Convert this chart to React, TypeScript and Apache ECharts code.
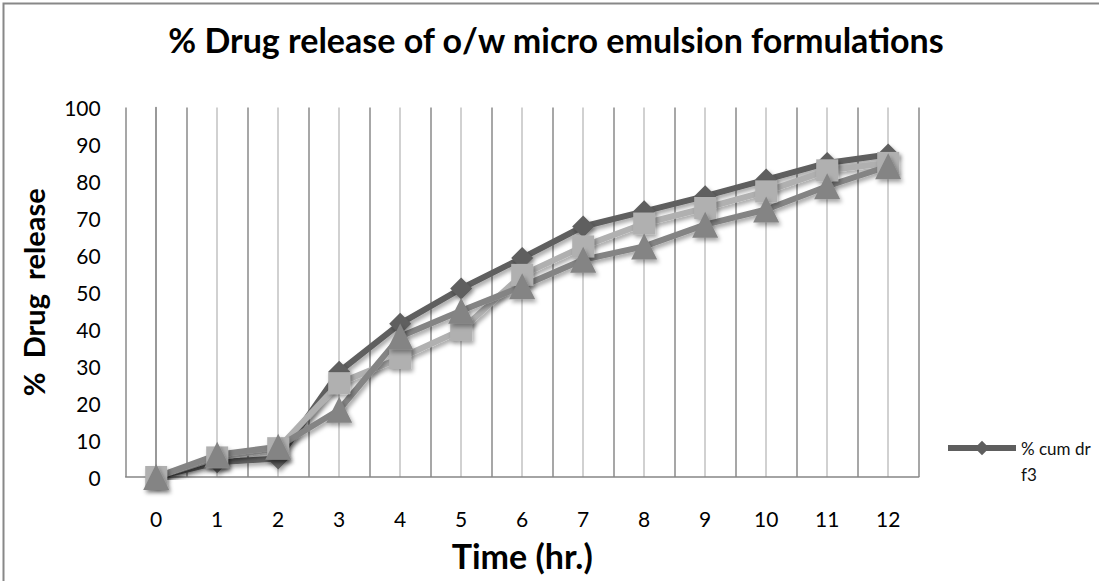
import React, { useEffect, useRef } from "react";
import * as echarts from "echarts";

const times = [0, 1, 2, 3, 4, 5, 6, 7, 8, 9, 10, 11, 12];
const seriesF3 = [0, 4, 5, 28.5, 41.5, 51, 59.3, 67.8, 71.9, 76, 80.5, 85, 87.3];
const seriesB = [0, 5.3, 7.8, 25.4, 32.2, 39.8, 54.7, 62.4, 68.6, 72.8, 77.3, 83, 85];
const seriesC = [0, 6, 8.2, 18.2, 38, 45, 51.6, 58.8, 62.4, 68.3, 72.4, 78.7, 84.1];
const yTicks = { min: 0, max: 100, interval: 10 };

const FONT = "Lato";

export default function App() {
  const ref = useRef<HTMLDivElement>(null);
  useEffect(() => {
    const chart = echarts.init(ref.current!, undefined, { renderer: "svg" });
    const shadow = {
      shadowColor: "rgba(0,0,0,0.35)",
      shadowBlur: 4,
      shadowOffsetX: 2,
      shadowOffsetY: 3,
    };
    const mk = (name: string, vals: number[], color: string, symbol: string, size: number) => ({
      name,
      type: "line",
      data: times.map((t, i) => [t, vals[i]]),
      symbol,
      symbolSize: size,
      showSymbol: true,
      lineStyle: { color, width: 6, ...shadow },
      itemStyle: { color, borderWidth: 0, ...shadow },
      emphasis: { disabled: true },
      z: 3,
    });
    chart.setOption({
      animation: false,
      backgroundColor: "#ffffff",
      title: {
        text: "% Drug release of o/w micro emulsion formulations",
        left: 551,
        textAlign: "center",
        top: 17,
        textStyle: { fontFamily: FONT, fontWeight: "bold", fontSize: 34, color: "#000" },
      },
      legend: {
        data: ["% cum dr f3"],
        left: 940,
        top: 404,
        itemWidth: 68,
        itemHeight: 18,
        itemGap: 4,
        lineStyle: { width: 6, color: "#5e5e5e" },
        formatter: () => " \n% cum dr\nf3",
        textStyle: {
          fontFamily: FONT,
          fontSize: 17,
          color: "#111",
          lineHeight: 26,
        },
      },
      grid: { left: 125.7, right: 180.3, top: 107.5, bottom: 104, containLabel: false },
      xAxis: {
        type: "value",
        min: -0.5,
        max: 12.5,
        interval: 0.5,
        name: "Time (hr.)",
        nameLocation: "middle",
        nameGap: 61,
        nameTextStyle: { fontFamily: FONT, fontWeight: "bold", fontSize: 34, color: "#000" },
        axisLine: { show: true, lineStyle: { color: "#868686", width: 1.5 } },
        axisTick: { show: false },
        axisLabel: {
          margin: 31,
          fontFamily: FONT,
          fontSize: 21,
          color: "#000",
          showMinLabel: false,
          showMaxLabel: false,
          formatter: (v: number) => (Number.isInteger(v) ? String(v) : ""),
        },
        splitLine: { show: true, lineStyle: { color: ["#8a8a8a", "#c2c2c2"], width: 1.5 } },
      },
      yAxis: {
        type: "value",
        min: yTicks.min,
        max: yTicks.max,
        interval: yTicks.interval,
        name: "%  Drug  release",
        nameLocation: "middle",
        nameRotate: 90,
        nameGap: 78,
        nameTextStyle: { fontFamily: FONT, fontWeight: "bold", fontSize: 29, color: "#000" },
        axisLine: { show: true, lineStyle: { color: "#868686", width: 1.5 } },
        axisTick: { show: false },
        axisLabel: { margin: 25, fontFamily: FONT, fontSize: 21, color: "#000" },
        splitLine: { show: false },
      },
      graphic: [
        {
          type: "rect",
          shape: { x: 3.5, y: 3.5, width: 1200, height: 700 },
          style: { fill: "none", stroke: "#888888", lineWidth: 2 },
          silent: true,
          z: -1,
        },
      ],
      series: [
        mk("% cum dr f3", seriesF3, "#5e5e5e", "diamond", 22),
        mk("% cum dr f2", seriesB, "#b0b0b0", "rect", 22),
        mk("% cum dr f1", seriesC, "#848484", "triangle", 26),
      ],
    });
    return () => chart.dispose();
  }, []);
  return (
    <div
      ref={ref}
      style={{ position: "fixed", left: 0, top: 0, width: 1099, height: 581 }}
    />
  );
}
